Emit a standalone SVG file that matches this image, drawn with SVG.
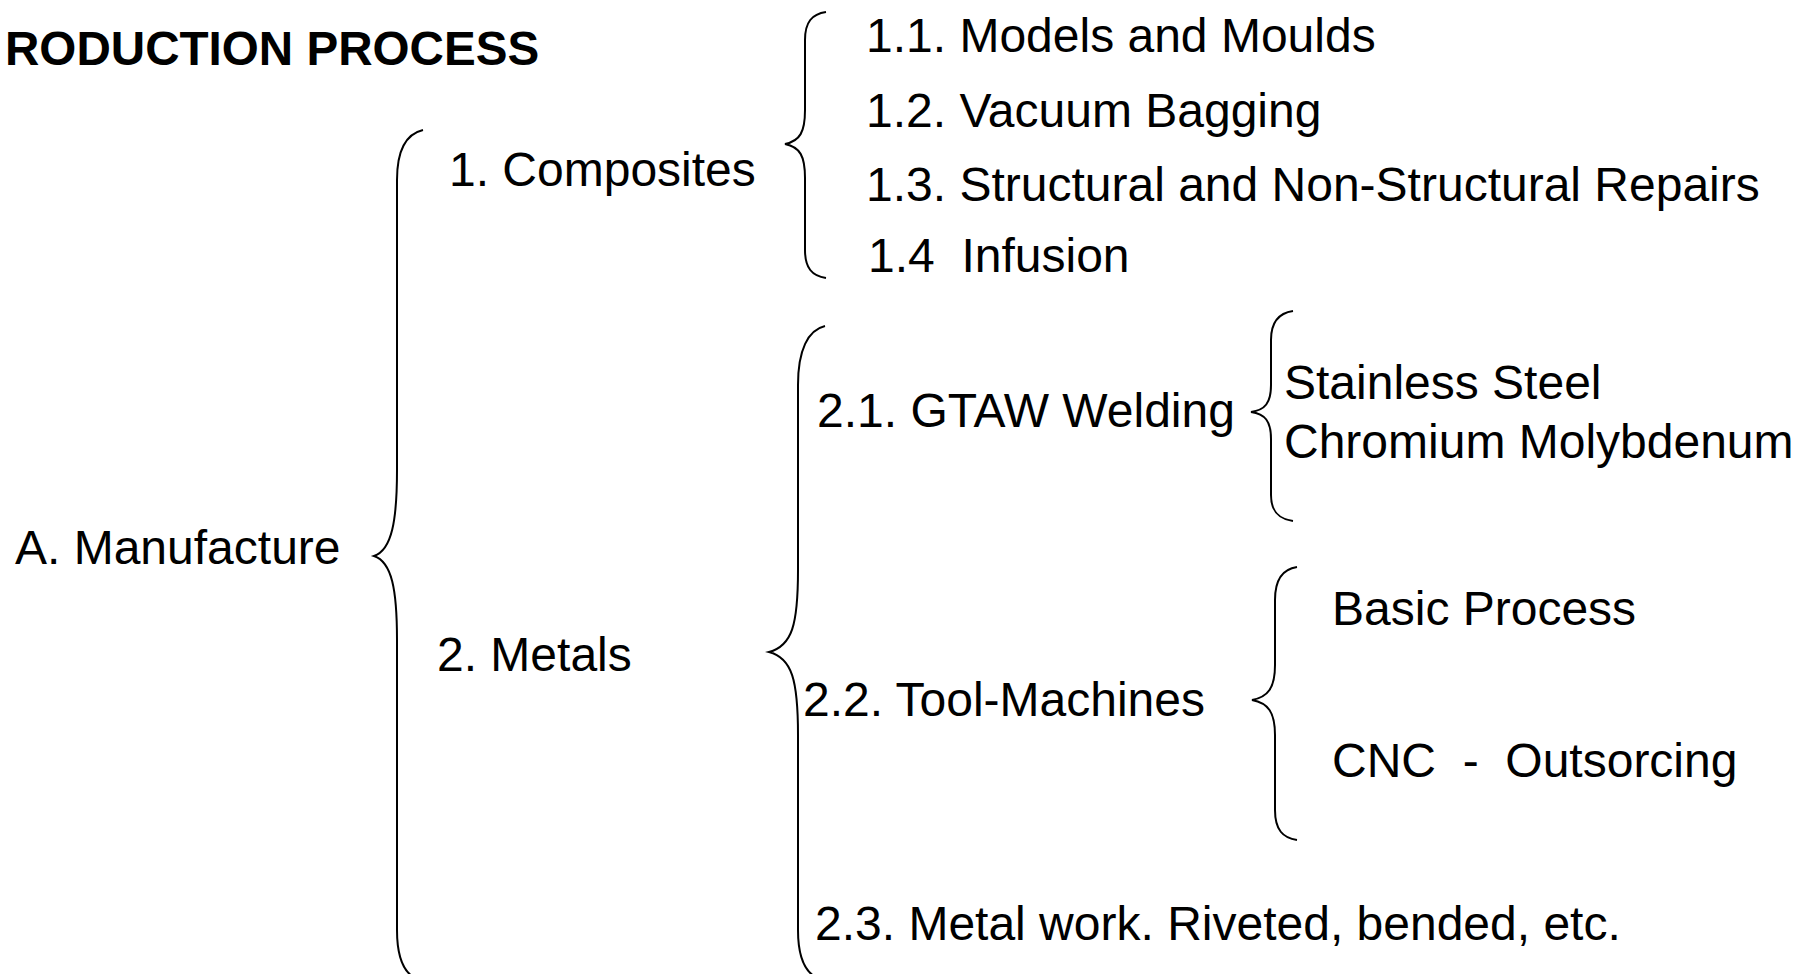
<svg xmlns="http://www.w3.org/2000/svg" width="1804" height="974" viewBox="0 0 1804 974">
<style>
text{font-family:"Liberation Sans",Arial,sans-serif;font-size:48px;fill:#000;white-space:pre}
.b{font-weight:bold;font-size:47.6px}
.br{fill:none;stroke:#000;stroke-width:2}
</style>
<rect width="1804" height="974" fill="#fff"/>
<g id="title"><text class="b" x="5" y="65">RODUCTION PROCESS</text></g>
<g id="manufacture"><text x="15" y="564">A. Manufacture</text></g>
<g id="composites"><text x="449" y="186">1. Composites</text></g>
<g id="c11"><text x="866" y="52">1.1. Models and Moulds</text></g>
<g id="c12"><text x="866" y="127">1.2. Vacuum Bagging</text></g>
<g id="c13"><text x="866" y="201">1.3. Structural and Non-Structural Repairs</text></g>
<g id="c14"><text x="868" y="272" xml:space="preserve">1.4  Infusion</text></g>
<g id="metals"><text x="437" y="671">2. Metals</text></g>
<g id="m21"><text x="817" y="427">2.1. GTAW Welding</text></g>
<g id="ss"><text x="1284" y="399">Stainless Steel</text></g>
<g id="cm"><text x="1284" y="458">Chromium Molybdenum</text></g>
<g id="m22"><text x="803" y="716">2.2. Tool-Machines</text></g>
<g id="bp"><text x="1332" y="625">Basic Process</text></g>
<g id="cnc"><text x="1332" y="777" xml:space="preserve">CNC  -  Outsorcing</text></g>
<g id="m23"><text x="815" y="940">2.3. Metal work. Riveted, bended, etc.</text></g>
<g id="connectors">
<path class="br" d="M423,130 C406,134 397,150 397,180 L397,470 C397,520 392,550 374,556 C392,562 397,590 397,640 L397,930 C397,960 406,976 420,980"/>
<path class="br" d="M826,12 C812,14 805,22 805,40 L805,110 C805,132 800,141 785,144 C800,147 805,156 805,178 L805,250 C805,268 812,276 826,278"/>
<path class="br" d="M825,326 C808,330 798,350 798,385 L798,570 C798,625 792,646 769,652 C792,658 798,680 798,735 L798,930 C798,960 806,976 823,980"/>
<path class="br" d="M1293,311 C1279,313 1271,322 1271,340 L1271,385 C1271,403 1265,410 1251,412 C1265,414 1271,421 1271,439 L1271,495 C1271,512 1279,519 1293,521"/>
<path class="br" d="M1297,567 C1283,569 1275,579 1275,600 L1275,665 C1275,688 1268,697 1252,700 C1268,703 1275,712 1275,735 L1275,810 C1275,830 1283,838 1297,840"/>
</g>
</svg>
